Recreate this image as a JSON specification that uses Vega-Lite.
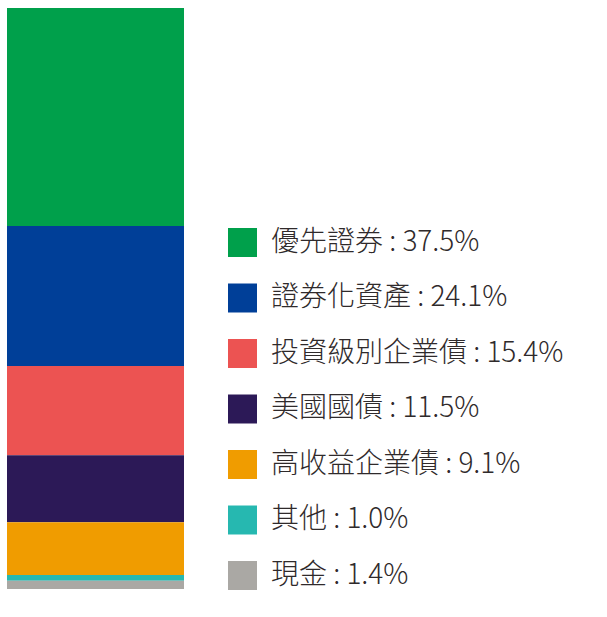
{
  "$schema": "https://vega.github.io/schema/vega-lite/v6.json",
  "width": 177,
  "height": 581,
  "autosize": {"type": "none"},
  "padding": {"left": 7, "top": 8, "right": 423, "bottom": 28},
  "background": "white",
  "config": {"view": {"stroke": null}},
  "data": {
    "values": [
      {"label": "優先證券 : 37.5%", "pct": 37.5, "rank": 1},
      {"label": "證券化資產 : 24.1%", "pct": 24.1, "rank": 2},
      {"label": "投資級別企業債 : 15.4%", "pct": 15.4, "rank": 3},
      {"label": "美國國債 : 11.5%", "pct": 11.5, "rank": 4},
      {"label": "高收益企業債 : 9.1%", "pct": 9.1, "rank": 5},
      {"label": "其他 : 1.0%", "pct": 1.0, "rank": 6},
      {"label": "現金 : 1.4%", "pct": 1.4, "rank": 7}
    ]
  },
  "mark": {"type": "bar", "stroke": null},
  "encoding": {
    "x": {"field": "group", "type": "nominal", "axis": null, "scale": {"paddingInner": 0, "paddingOuter": 0}},
    "y": {"field": "pct", "type": "quantitative", "stack": "zero", "axis": null, "scale": {"domain": [0, 100], "nice": false, "zero": true}},
    "order": {"field": "rank", "sort": "descending"},
    "color": {
      "field": "label",
      "type": "nominal",
      "sort": null,
      "scale": {
        "domain": ["優先證券 : 37.5%", "證券化資產 : 24.1%", "投資級別企業債 : 15.4%", "美國國債 : 11.5%", "高收益企業債 : 9.1%", "其他 : 1.0%", "現金 : 1.4%"],
        "range": ["#00a04b", "#003f98", "#ec5352", "#2c1957", "#f09c00", "#26b8b0", "#aaa8a4"]
      },
      "legend": {
        "title": null,
        "orient": "none",
        "legendX": 221,
        "legendY": 220,
        "padding": 0,
        "symbolType": "square",
        "symbolSize": 841,
        "symbolStrokeWidth": 0,
        "symbolOpacity": 1,
        "labelFont": "Noto Sans CJK TC",
        "labelFontSize": 28,
        "labelFontWeight": 300,
        "labelColor": "#2f2a2b",
        "labelOffset": 14,
        "labelLimit": 400,
        "rowPadding": 26.5
      }
    }
  }
}
